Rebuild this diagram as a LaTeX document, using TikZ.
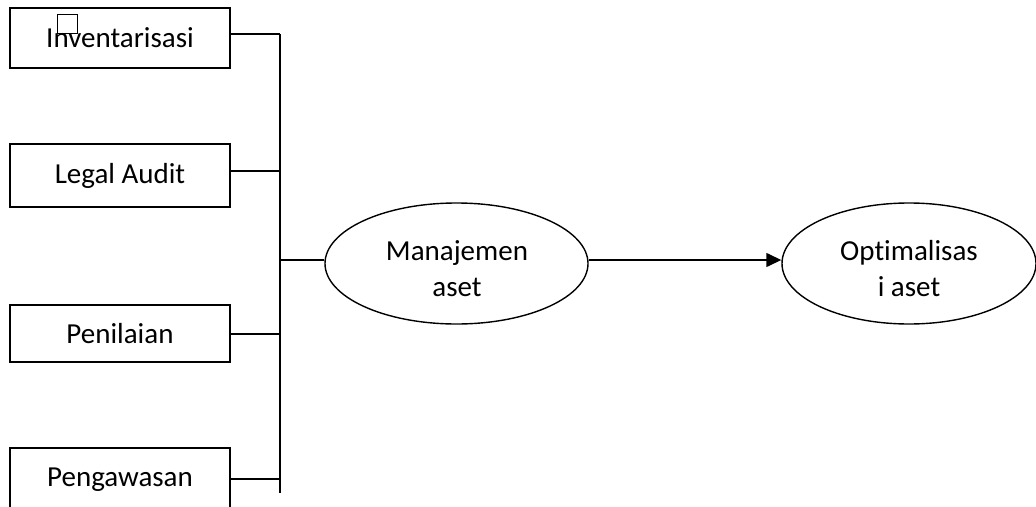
\documentclass[tikz,border=0pt]{standalone}
\usepackage{fontspec}
\setmainfont[Ligatures=NoCommon]{Carlito}
\usetikzlibrary{shapes.geometric,arrows.meta}
\tikzset{
  stepbox/.style={draw, line width=1.4pt, minimum width=220pt, inner sep=0pt, font=\fontsize{29}{35}\selectfont},
  oval/.style={draw, ellipse, line width=1.4pt, inner sep=0pt},
  lbl/.style={align=center, anchor=base, inner sep=0pt, font=\fontsize{29}{36}\selectfont},
  conn/.style={line width=1.4pt}
}
\begin{document}
\begin{tikzpicture}[x=1pt,y=-1pt]
\useasboundingbox (0,0) rectangle (1036,506);
% boxes
\node[stepbox, minimum height=60pt] (b1) at (120,38) {Inventarisasi};
\node[stepbox, minimum height=63pt] (b2) at (120,175.5) {Legal Audit};
\node[stepbox, minimum height=57pt] (b3) at (120,333.5) {Penilaian};
\node[stepbox, minimum height=63pt] (b4) at (120,479.5) {Pengawasan};
\node[draw, line width=1pt, minimum width=20pt, minimum height=19pt, inner sep=0pt] (sq) at (67,23.5) {};
% junctions
\coordinate (j1) at (280,34);
\coordinate (j2) at (280,171);
\coordinate (j3) at (280,334);
\coordinate (j4) at (280,479);
\coordinate (jm) at (280,260);
\coordinate (jend) at (280,493);
% ellipses
\node[oval, minimum width=263pt, minimum height=121pt] (e1) at (456.5,263.5) {};
\node[oval, minimum width=254pt, minimum height=121pt] (e2) at (909,263.5) {};
% connectors
\draw[conn] (b1.east |- j1) -- (j1);
\draw[conn] (b2.east |- j2) -- (j2);
\draw[conn] (b3.east |- j3) -- (j3);
\draw[conn] (b4.east |- j4) -- (j4);
\draw[conn] (j1) -- (jend);
\draw[conn] (jm) -- (e1.west |- jm);
\draw[conn, -{Triangle[length=15pt,width=14pt]}] (e1.east |- jm) -- (e2.west |- jm);
% ellipse texts (clipped as in the reference)
\begin{scope}
\clip (330,200) rectangle (1030,296.5);
\node[lbl] (t1) at (457,296) {Manajemen\\aset};
\node[lbl] (t2) at (909,296) {Optimalisas\\i aset};
\end{scope}
\end{tikzpicture}
\end{document}
